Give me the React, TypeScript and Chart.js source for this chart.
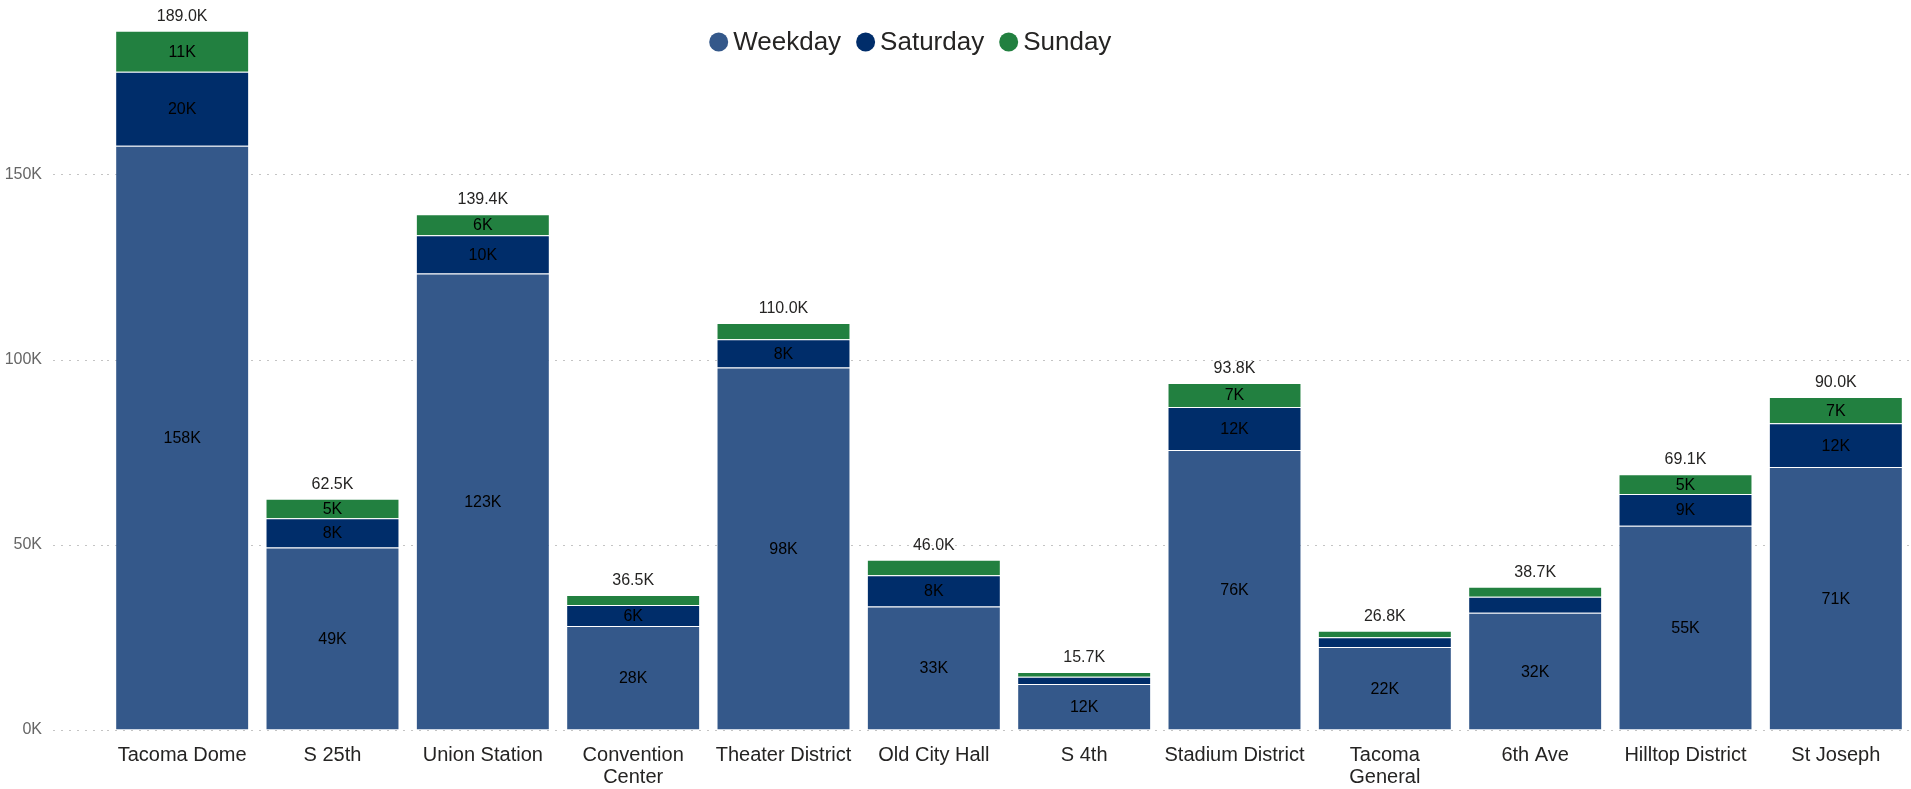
import React, { useEffect, useRef } from "react";
import { Chart, registerables } from "chart.js";

Chart.register(...registerables);

const categories: (string | string[])[] = [
  "Tacoma Dome",
  "S 25th",
  "Union Station",
  ["Convention", "Center"],
  "Theater District",
  "Old City Hall",
  "S 4th",
  "Stadium District",
  ["Tacoma", "General"],
  "6th Ave",
  "Hilltop District",
  "St Joseph",
];

const weekday = [157.9, 49.3, 123.4, 28.1, 98.0, 33.4, 12.4, 75.7, 22.4, 31.7, 55.2, 71.1];
const saturday = [20.0, 7.9, 10.3, 5.7, 7.6, 8.4, 2.0, 11.6, 2.7, 4.3, 8.6, 11.8];
const sunday = [11.1, 5.3, 5.7, 2.7, 4.4, 4.2, 1.3, 6.5, 1.7, 2.7, 5.3, 7.1];

const seriesNames = ["Weekday", "Saturday", "Sunday"];
const seriesColors = ["#34588A", "#002D6A", "#228040"];
const yTickValues = [0, 50, 100, 150];

const FONT = "'Liberation Sans', Arial, sans-serif";

const labelsPlugin = {
  id: "stackLabels",
  afterDatasetsDraw(chart: any) {
    const ctx = chart.ctx;
    ctx.save();
    ctx.textAlign = "center";
    ctx.font = `16px ${FONT}`;
    chart.data.datasets.forEach((ds: any, di: number) => {
      const meta = chart.getDatasetMeta(di);
      meta.data.forEach((el: any, i: number) => {
        const h = el.base - el.y;
        if (h < 18) return;
        ctx.fillStyle = "#000000";
        ctx.textBaseline = "middle";
        ctx.fillText(Math.round(ds.data[i]) + "K", el.x, (el.y + el.base) / 2 + 1);
      });
    });
    const lastMeta = chart.getDatasetMeta(chart.data.datasets.length - 1);
    lastMeta.data.forEach((el: any, i: number) => {
      const total = chart.data.datasets.reduce((s: number, d: any) => s + d.data[i], 0);
      ctx.textBaseline = "alphabetic";
      ctx.fillStyle = "#252423";
      ctx.fillText(total.toFixed(1) + "K", el.x, el.y - 10);
    });
    ctx.restore();
  },
};

const legendPlugin = {
  id: "customLegend",
  afterDraw(chart: any) {
    const ctx = chart.ctx;
    ctx.save();
    ctx.font = `26px ${FONT}`;
    ctx.textBaseline = "middle";
    ctx.textAlign = "left";
    let cx = 718.7;
    const cy = 42;
    seriesNames.forEach((name, i) => {
      ctx.fillStyle = seriesColors[i];
      ctx.beginPath();
      ctx.arc(cx, cy, 9.5, 0, Math.PI * 2);
      ctx.fill();
      ctx.fillStyle = "#252423";
      const tx = cx + 14.5;
      ctx.fillText(name, tx, cy + 1);
      const w = ctx.measureText(name).width;
      cx = tx + w + 24.5;
    });
    ctx.restore();
  },
};

export default function App() {
  const ref = useRef<HTMLCanvasElement | null>(null);
  useEffect(() => {
    if (!ref.current) return;
    const chart = new Chart(ref.current, {
      type: "bar",
      data: {
        labels: categories as any,
        datasets: [weekday, saturday, sunday].map((d, i) => ({
          label: seriesNames[i],
          data: d,
          backgroundColor: seriesColors[i],
          borderColor: "rgba(255,255,255,0.22)",
          borderWidth: 1,
          categoryPercentage: 1,
          barPercentage: 0.891,
        })),
      },
      options: {
        responsive: false,
        animation: false,
        layout: { padding: { top: 8.5, right: 0, bottom: 0, left: 0 } },
        plugins: {
          legend: { display: false },
          tooltip: { enabled: false },
        },
        scales: {
          x: {
            stacked: true,
            grid: { display: false, drawTicks: false },
            border: { display: false },
            ticks: {
              padding: 14,
              maxRotation: 0,
              autoSkip: false,
              color: "#252423",
              font: { family: FONT, size: 20, lineHeight: 1.1 },
            },
            afterFit(scale: any) {
              scale.height = 59;
              scale.paddingLeft = 0;
              scale.paddingRight = 0;
            },
          },
          y: {
            stacked: true,
            min: 0,
            max: 195,
            border: { display: false, dash: [2, 6] },
            grid: {
              color: "#c4c4c4",
              lineWidth: 1,
              drawTicks: true,
              tickLength: 54,
              tickColor: "#c4c4c4",
              tickBorderDash: [2, 6],
            } as any,
            ticks: {
              stepSize: 50,
              padding: 11,
              color: "#666666",
              font: { family: FONT, size: 16 },
              callback: (v: any) => v + "K",
            },
            afterBuildTicks(scale: any) {
              scale.ticks = yTickValues.map((v) => ({ value: v }));
            },
            afterFit(scale: any) {
              scale.width = 107;
              scale.paddingTop = 0;
              scale.paddingBottom = 0;
            },
          } as any,
        },
      },
      plugins: [labelsPlugin, legendPlugin],
    });
    return () => chart.destroy();
  }, []);
  return (
    <div style={{ position: "fixed", left: 0, top: 0, width: 1911, height: 789, background: "#fff" }}>
      <canvas ref={ref} width={1911} height={789} style={{ display: "block" }} />
    </div>
  );
}
